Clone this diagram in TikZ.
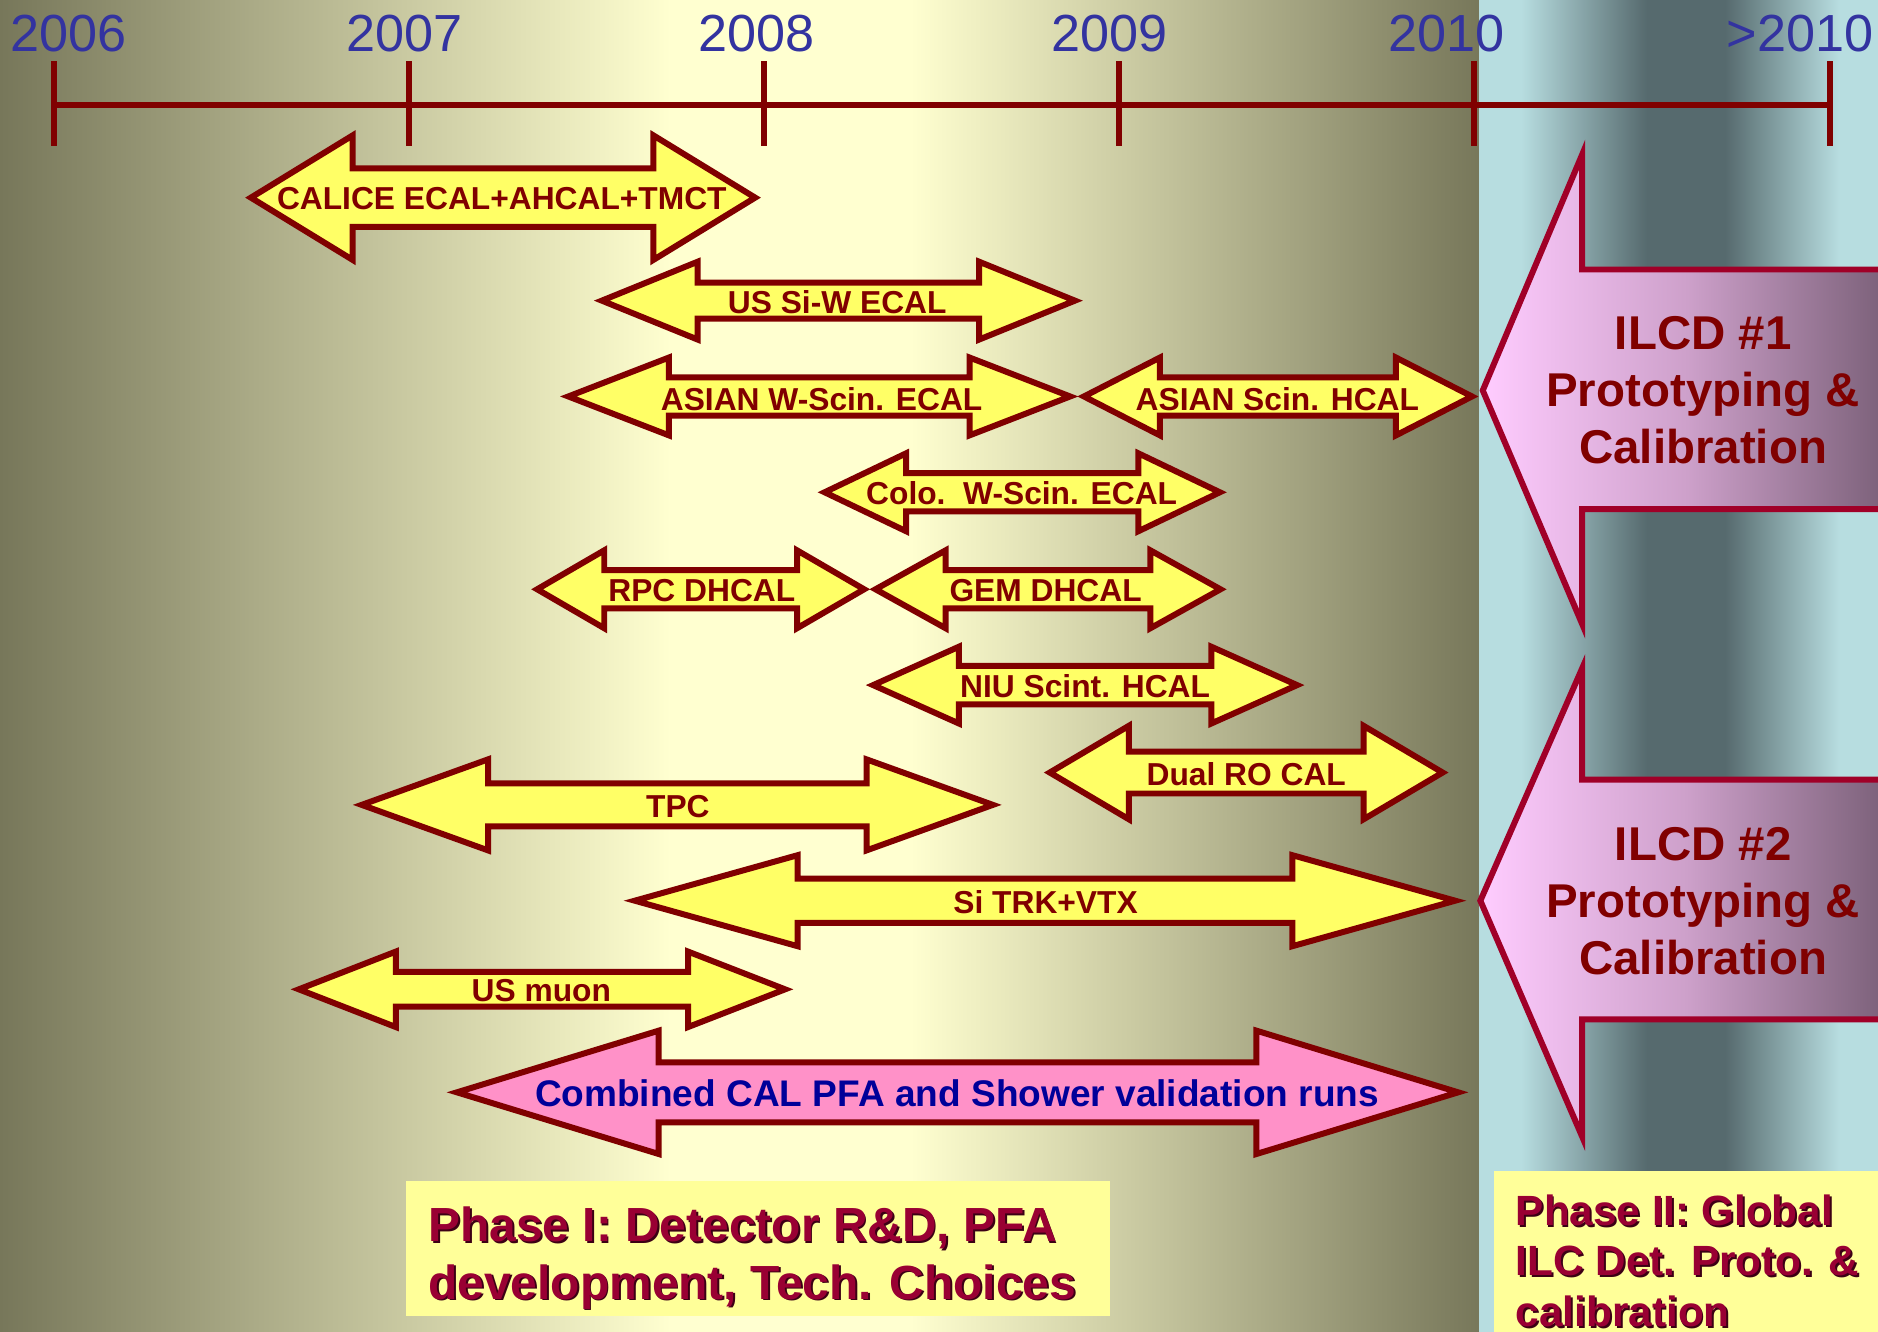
\documentclass[tikz,border=0pt]{standalone}
\usepackage{fontspec}
\setmainfont{Liberation Sans}

\definecolor{bgolive}{RGB}{119,119,90}
\definecolor{bgpale}{RGB}{255,255,208}
\definecolor{bgcyan}{RGB}{183,221,224}
\definecolor{bgslate}{RGB}{86,106,110}
\definecolor{tlred}{RGB}{128,0,0}
\definecolor{yearblue}{RGB}{51,51,160}
\definecolor{armyellow}{RGB}{255,255,102}
\definecolor{runpink}{RGB}{255,145,200}
\definecolor{runblue}{RGB}{0,0,153}
\definecolor{ilcdred}{RGB}{160,0,40}
\definecolor{ilcdlight}{RGB}{255,204,255}
\definecolor{ilcdmid}{RGB}{205,160,202}
\definecolor{ilcddark}{RGB}{120,94,118}
\definecolor{phaseyellow}{RGB}{255,255,153}
\definecolor{phasered}{RGB}{153,0,51}
\definecolor{phaseshade}{RGB}{60,0,20}

% background gradients (path is mapped onto 25bp--75bp)
\pgfdeclarehorizontalshading{stageone}{100bp}{color(0bp)=(bgolive); color(25bp)=(bgolive);
  color(47.65bp)=(bgpale); color(55.74bp)=(bgpale); color(75bp)=(bgolive); color(100bp)=(bgolive)}
\pgfdeclarehorizontalshading{stagetwo}{100bp}{color(0bp)=(bgcyan); color(30.26bp)=(bgcyan);
  color(46.02bp)=(bgslate); color(55.78bp)=(bgslate); color(70.05bp)=(bgcyan); color(100bp)=(bgcyan)}

\tikzset{
  timeline/.style={draw=tlred, line width=0.55mm},
  yeartick/.style={draw=tlred, line width=0.5mm},
  yearlabel/.style={anchor=base, inner sep=0pt, text=yearblue, font=\fontsize{12.4pt}{14pt}\selectfont},
  armbox/.style={draw=tlred, line width=0.5mm, fill=armyellow},
  runbox/.style={draw=tlred, line width=0.5mm, fill=runpink},
  ilcdbox/.style={draw=ilcdred, line width=0.5mm, left color=ilcdlight, right color=ilcddark, middle color=ilcdmid},
  armlabel/.style={anchor=base, inner sep=0pt, text=tlred, font=\bfseries\fontsize{7.54pt}{9pt}\selectfont},
  runlabel/.style={armlabel, text=runblue, font=\bfseries\fontsize{8.8pt}{10.5pt}\selectfont},
  ilcdlabel/.style={align=center, inner sep=0pt, text=tlred, font=\bfseries\fontsize{11.27pt}{13.5pt}\selectfont},
  phasebox/.style={fill=phaseyellow},
  phaseone/.style={anchor=north west, align=left, inner sep=0pt, font=\bfseries\fontsize{11.38pt}{13.66pt}\selectfont},
  phasetwo/.style={anchor=north west, align=left, inner sep=0pt, font=\bfseries\fontsize{10.04pt}{11.95pt}\selectfont},
}

% double headed block arrow: style, left tip, right tip, y, head length, head half width, shaft half width
\newcommand{\blockarrow}[7]{%
  \draw[#1] (#2,#4) -- (#2+#5,#4-#6) -- (#2+#5,#4-#7) -- (#3-#5,#4-#7)
    -- (#3-#5,#4-#6) -- (#3,#4) -- (#3-#5,#4+#6) -- (#3-#5,#4+#7)
    -- (#2+#5,#4+#7) -- (#2+#5,#4+#6) -- cycle;}

\begin{document}
\begin{tikzpicture}[x=0.1mm,y=-0.1mm]
	\useasboundingbox (0,0) rectangle (1568,1112);
	\clip (0,0) rectangle (1568,1112);
	% background bands
	\shade [shading=stageone] (0,0) rectangle (1236,1112);
	\shade [shading=stagetwo] (1235,0) rectangle (1568,1112);

	% time axis
	\draw [timeline] (45,87.5) -- (1528,87.5);
	\foreach \x in {45,341.5,637.5,934,1231,1528}
		\draw [yeartick] (\x,51) -- (\x,122);
	\node [yearlabel] (y2006) at (57.5,43) {2006};
	\node [yearlabel] (y2007) at (338,43) {2007};
	\node [yearlabel] (y2008) at (632,43) {2008};
	\node [yearlabel] (y2009) at (926.5,43) {2009};
	\node [yearlabel] (y2010) at (1208,43) {2010};
	\node [yearlabel] (ylater) at (1503,43) {>2010};

	% ILCD arrows
	\draw [ilcdbox] (1238,326) -- (1321,129) -- (1321,225) -- (1580,225) -- (1580,425) -- (1321,425) -- (1321,521) -- cycle;
	\draw [ilcdbox] (1236,752) -- (1321,558) -- (1321,651) -- (1580,651) -- (1580,851) -- (1321,851) -- (1321,949) -- cycle;
	\node [ilcdlabel] (ilcdone) at (1422,325.5) {ILCD \#1\\Prototyping \&\\Calibration};
	\node [ilcdlabel] (ilcdtwo) at (1422,752.5) {ILCD \#2\\Prototyping \&\\Calibration};

	% test beam programmes
	\blockarrow{armbox}{209.5}{630.5}{165}{85}{52}{24.5}
	\node [armlabel] (calice) at (419,174.5) {CALICE ECAL+AHCAL+TMCT};
	\blockarrow{armbox}{502.5}{897.5}{251}{80}{32.5}{15}
	\node [armlabel] (ussiw) at (699,261.5) {US Si-W ECAL};
	\blockarrow{armbox}{474.5}{893.5}{331}{84}{32.5}{16}
	\node [armlabel] (asianw) at (686,342.5) {ASIAN W-Scin. ECAL};
	\blockarrow{armbox}{905}{1229}{331}{63.5}{32.5}{16}
	\node [armlabel] (asianscin) at (1066.5,342.5) {ASIAN Scin. HCAL};
	\blockarrow{armbox}{688.5}{1018.5}{411}{68}{32.5}{16}
	\node [armlabel] (colo) at (853,421.5) {Colo.\ \ W-Scin. ECAL};
	\blockarrow{armbox}{448.5}{721.5}{492}{56}{32.5}{16}
	\node [armlabel] (rpc) at (586,502.5) {RPC DHCAL};
	\blockarrow{armbox}{731}{1019}{492}{58.5}{32.5}{16}
	\node [armlabel] (gem) at (873,502.5) {GEM DHCAL};
	\blockarrow{armbox}{729}{1083}{572}{71.5}{32}{16}
	\node [armlabel] (niu) at (906,582.5) {NIU Scint. HCAL};
	\blockarrow{armbox}{876.5}{1204.5}{645}{66}{39}{17.5}
	\node [armlabel] (dualro) at (1040.5,655.5) {Dual RO CAL};
	\blockarrow{armbox}{302}{829}{672}{105.5}{38}{18}
	\node [armlabel] (tpc) at (566,682.5) {TPC};
	\blockarrow{armbox}{530}{1215}{752}{136}{38}{18.5}
	\node [armlabel] (sitrk) at (873,762.5) {Si TRK+VTX};
	\blockarrow{armbox}{249.5}{655.5}{826}{81}{31.5}{14.5}
	\node [armlabel] (usmuon) at (452,836.5) {US muon};
	\blockarrow{runbox}{381.5}{1217.5}{912}{168.5}{51.5}{25}
	\node [runlabel] (combined) at (799,924) {Combined CAL PFA and Shower validation runs};

	% phase boxes
	\fill [phasebox] (339,986) rectangle (927,1099);
	\node [phaseone, text=phaseshade] (phaseishade) at (358.5,1008.5) {Phase I: Detector R\&D, PFA\\development, Tech. Choices};
	\node [phaseone, text=phasered] (phasei) at (357,1007) {Phase I: Detector R\&D, PFA\\development, Tech. Choices};
	\fill [phasebox] (1247,978) rectangle (1575,1120);
	\node [phasetwo, text=phaseshade] (phaseiishade) at (1266.5,998.5) {Phase II: Global\\ILC Det. Proto. \&\\calibration};
	\node [phasetwo, text=phasered] (phaseii) at (1265,997) {Phase II: Global\\ILC Det. Proto. \&\\calibration};
\end{tikzpicture}
\end{document}
